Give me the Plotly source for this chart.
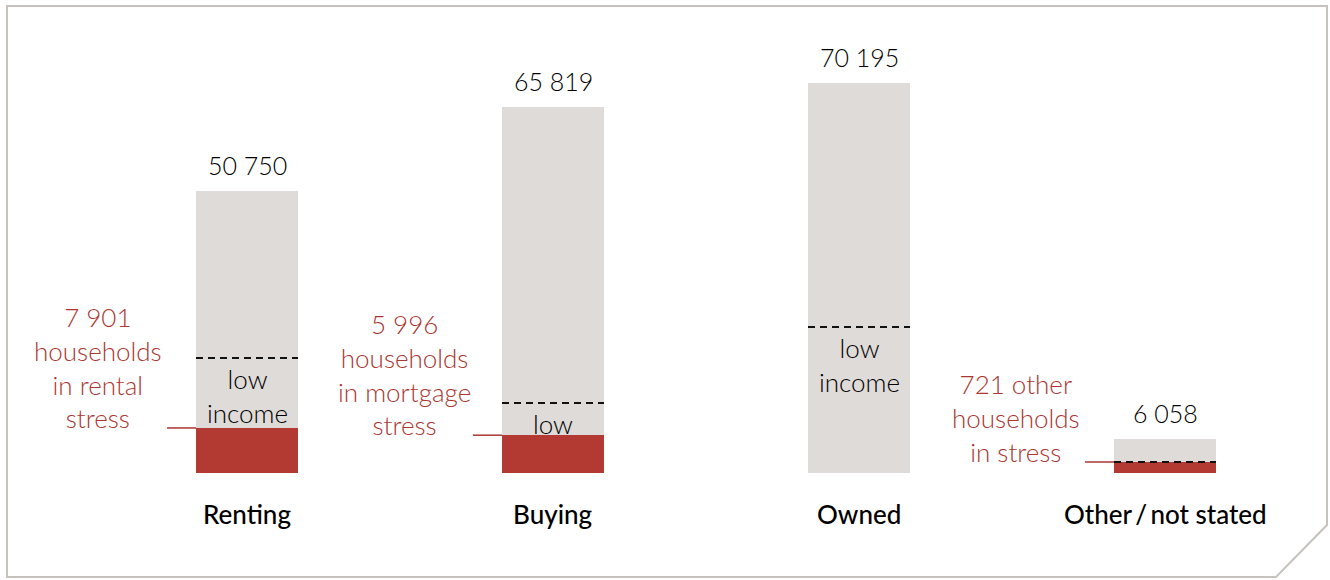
import plotly.graph_objects as go

# ---- data ----
categories = ["Renting", "Buying", "Owned", "Other / not stated"]
cat_labels = ["Renting", "Buying", "Owned", "Other\u2009/\u2009not stated"]
totals = [50750, 65819, 70195, 6058]
total_labels = ["50 750", "65 819", "70 195", "6 058"]
low_income = [20700, 12600, 26250, 1980]          # dashed threshold
stress = [8100, 6800, 0, 1980]                     # red band height as drawn
stress_labels = ["7 901<br>households<br>in rental<br>stress",
                 "5 996<br>households<br>in mortgage<br>stress",
                 None,
                 "721 other<br>households<br>in stress"]
low_texts = ["low<br>income", "low", "low<br>income", None]

GREY = "#dfdbd8"
RED = "#b33a33"
RED_TXT = "#ac3630"
FONT = "Lato"

W, H = 1330, 580
x_idx = list(range(len(categories)))
bw = 1 / 3

fig = go.Figure()
fig.add_trace(go.Bar(x=x_idx, y=totals, width=bw, marker=dict(color=GREY, line=dict(width=0)),
                     hoverinfo="skip"))
fig.add_trace(go.Bar(x=x_idx, y=stress, width=bw, marker=dict(color=RED, line=dict(width=0)),
                     hoverinfo="skip"))

# dashed low-income lines
for i, v in enumerate(low_income):
    fig.add_trace(go.Scatter(x=[i - bw / 2, i + bw / 2], y=[v, v], mode="lines",
                             line=dict(color="#111111", width=2, dash="7px,5px"),
                             hoverinfo="skip"))

annotations = []
for i in x_idx:
    annotations.append(dict(x=i, y=totals[i], text=total_labels[i], showarrow=False,
                            yanchor="bottom", yshift=9,
                            font=dict(family=FONT, size=25, color="#000000", weight=300)))
    annotations.append(dict(x=i, y=-4000, text=cat_labels[i], showarrow=False,
                            yanchor="top", yshift=-1,
                            font=dict(family=FONT, size=26, color="#000000", weight=500)))
    if low_texts[i]:
        annotations.append(dict(x=i, y=low_income[i], text=low_texts[i], showarrow=False,
                                yanchor="top", yshift=-3,
                                font=dict(family=FONT, size=26, color="#000000", weight=300)))
    if stress_labels[i]:
        annotations.append(dict(x=i - bw / 2 - 0.32, y=stress[i], text=stress_labels[i],
                                showarrow=False, xanchor="center", yanchor="bottom", yshift=-8,
                                font=dict(family=FONT, size=26, color=RED_TXT, weight=300)))
        fig.add_trace(go.Scatter(x=[i - bw / 2 - 0.095, i - bw / 2], y=[stress[i], stress[i]],
                                 mode="lines", line=dict(color=RED_TXT, width=1.5),
                                 hoverinfo="skip"))

# frame with cut corner (paper coords)
def px(x):
    return x / W

def py(y):
    return 1 - y / H

frame = (f"M {px(7)},{py(6)} L {px(1327)},{py(6)} L {px(1327)},{py(525)} "
         f"L {px(1276)},{py(577)} L {px(7)},{py(577)} Z")

# axis mapping: bar centres at 247 px, 306 px per category; baseline at 473 px
u = 306
x0 = (0 - 247) / u
x1 = (W - 247) / u
per_px = 179.9
y0 = -(H - 473) * per_px
y1 = 473 * per_px

fig.update_layout(
    width=W, height=H,
    margin=dict(l=0, r=0, t=0, b=0),
    paper_bgcolor="white", plot_bgcolor="white",
    barmode="overlay", bargap=0,
    showlegend=False,
    xaxis=dict(range=[x0, x1], visible=False, fixedrange=True),
    yaxis=dict(range=[y0, y1], visible=False, fixedrange=True),
    annotations=annotations,
    shapes=[dict(type="path", path=frame, xref="paper", yref="paper",
                 line=dict(color="#c6c3bf", width=2), layer="below")],
    font=dict(family=FONT),
)

fig.write_html("out.html", config={"displayModeBar": False},
               post_script="document.body.style.margin='0';document.body.style.overflow='hidden';")
